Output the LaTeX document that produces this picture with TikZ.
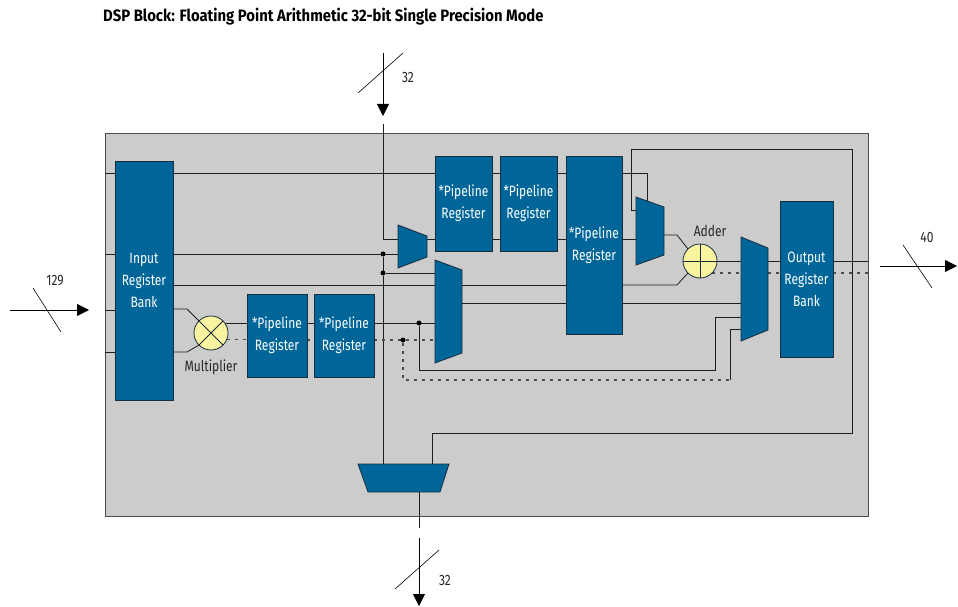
\documentclass[tikz,border=0pt]{standalone}
\usepackage{fontspec}
\setmainfont{Fira Sans}[FakeStretch=0.8]
\newfontfamily\titlefont{Fira Sans}[FakeStretch=0.9]
\usepackage{tikz}
\usetikzlibrary{arrows.meta,calc}
\definecolor{regblue}{RGB}{0,102,153}
\definecolor{regedge}{RGB}{25,45,60}
\definecolor{opyellow}{RGB}{250,244,160}
\definecolor{blockgray}{RGB}{204,204,204}
\definecolor{wire}{RGB}{30,30,30}
\pgfdeclarelayer{bg}
\pgfdeclarelayer{wires}
\pgfsetlayers{bg,wires,main}
\newcommand{\blockfont}{\fontsize{15}{22}\selectfont}
\newcommand{\drawmux}[2]{%
  \filldraw[muxfill] (#1.north west) -- ([yshift=-#2]#1.north east) -- ([yshift=#2]#1.south east) -- (#1.south west) -- cycle;}

\begin{document}
\begin{tikzpicture}[x=1pt, y=-1pt,
    reg/.style={draw=regedge, fill=regblue, text=white, align=center, inner sep=0pt, outer sep=0pt, line width=0.8pt, font=\blockfont},
    muxbox/.style={inner sep=0pt, outer sep=0pt},
    muxfill/.style={draw=regedge, fill=regblue, line width=0.8pt},
    oper/.style={circle, draw=regedge, fill=opyellow, minimum size=34pt, inner sep=0pt, outer sep=0pt, line width=0.8pt},
    wireline/.style={draw=wire, line width=0.8pt},
    dotline/.style={draw=gray!60!black, line width=1.1pt, dash pattern=on 3pt off 5pt},
    junction/.style={circle, fill=black, inner sep=0pt, outer sep=0pt, minimum size=5pt},
    sig/.style={draw=black, line width=0.8pt, -{Triangle[length=12pt,width=12pt]}},
    slash/.style={draw=black, line width=0.6pt},
    lbl/.style={text=black!85, font=\blockfont, inner sep=0pt}]
  \useasboundingbox (0,0) rectangle (958,607);
  \pgfmathsetmacro{\laneA}{173}
  \pgfmathsetmacro{\laneB}{239}
  \pgfmathsetmacro{\laneC}{285}
  \pgfmathsetmacro{\laneD}{303}

  \begin{pgfonlayer}{bg}
    \fill[white] (0,0) rectangle (958,607);
    \node[draw=gray!60!black, fill=blockgray, line width=1pt, minimum width=763pt, minimum height=382pt, inner sep=0pt, outer sep=0pt] (dsp) at (486.5,325) {};
  \end{pgfonlayer}

  \node[anchor=west, font=\titlefont\bfseries\fontsize{16.5}{18}\selectfont, inner sep=0pt] (title) at (103,17) {DSP Block: Floating Point Arithmetic 32-bit Single Precision Mode};

  % register blocks
  \node[reg, minimum width=58pt, minimum height=239pt] (inbank) at (144,280.5) {Input\\Register\\Bank};
  \node[reg, minimum width=57pt, minimum height=95pt] (pr1) at (463.5,203.5) {*Pipeline\\Register};
  \node[reg, minimum width=57pt, minimum height=95pt] (pr2) at (528.5,203.5) {*Pipeline\\Register};
  \node[reg, minimum width=56pt, minimum height=178pt] (pr3) at (594,245) {*Pipeline\\Register};
  \node[reg, minimum width=60pt, minimum height=83pt] (pr4) at (277,335.5) {*Pipeline\\Register};
  \node[reg, minimum width=60pt, minimum height=83pt] (pr5) at (344,335.5) {*Pipeline\\Register};
  \node[reg, minimum width=53pt, minimum height=156pt] (outbank) at (806.5,279) {Output\\Register\\Bank};

  % multiplexers
  \node[muxbox, minimum width=29pt, minimum height=43pt] (mux1) at (412.5,246.5) {};
  \node[muxbox, minimum width=27pt, minimum height=103pt] (mux2) at (448.5,311.5) {};
  \node[muxbox, minimum width=28pt, minimum height=68pt] (mux3) at (650,231) {};
  \node[muxbox, minimum width=27pt, minimum height=104pt] (omux) at (754.5,289) {};
  \node[muxbox, minimum width=91pt, minimum height=28pt] (bmux) at (403.5,478) {};
  \drawmux{mux1}{11pt}
  \drawmux{mux2}{10pt}
  \drawmux{mux3}{10pt}
  \drawmux{omux}{11pt}
  \filldraw[muxfill] (bmux.north west) -- (bmux.north east) -- ([xshift=-9pt]bmux.south east) -- ([xshift=10pt]bmux.south west) -- cycle;

  % multiplier and adder
  \node[oper, path picture={\draw[regedge, line width=0.8pt] (path picture bounding box.north west) -- (path picture bounding box.south east) (path picture bounding box.south west) -- (path picture bounding box.north east);}] (mult) at (211,333) {};
  \node[oper, path picture={\draw[regedge, line width=0.8pt] (path picture bounding box.north) -- (path picture bounding box.south) (path picture bounding box.west) -- (path picture bounding box.east);}] (adder) at (700,261) {};
  \node[lbl] (multlbl) at (211,367) {Multiplier};
  \node[lbl] (addlbl) at (710,231) {Adder};

  \node[junction] (j1) at (383,254) {};
  \node[junction] (j2) at (383,273) {};
  \node[junction] (j3) at (419,323) {};
  \node[junction] (j4) at (403,340) {};

  % ports
  \coordinate (in129) at (10,310);
  \coordinate (in129tip) at (89,310);
  \coordinate (topin) at (383,53);
  \coordinate (toptip) at (383,116);
  \coordinate (topent) at (383,124);
  \coordinate (out40) at (880,266);
  \coordinate (out40tip) at (957,266);
  \coordinate (botend) at (419,528);
  \coordinate (botout) at (419,538);
  \coordinate (bottip) at (419,606);
  \coordinate (m3top) at (647,201);

  \draw[sig] (in129) -- (in129tip);
  \draw[slash] (33,288) -- (61,332);
  \node[lbl] (n129) at (55,281) {129};
  \draw[sig] (topin) -- (toptip);
  \draw[slash] (358,93) -- (403,53);
  \node[lbl] (ntop) at (408,77) {32};
  \draw[sig] (out40) -- (out40tip);
  \draw[slash] (903,245) -- (932,288);
  \node[lbl] (n40) at (927,237) {40};
  \draw[sig] (botout) -- (bottip);
  \draw[slash] (395,589) -- (439,550);
  \node[lbl] (nbot) at (445,580) {32};

  \begin{pgfonlayer}{wires}
    \foreach \y in {173,254,310,352}
      \draw[wireline] (dsp.west |- 0,\y) -- (inbank.west |- 0,\y);
    % upper pipeline lanes
    \draw[wireline] (inbank.east |- 0,\laneA) -- (pr1.west |- 0,\laneA);
    \draw[wireline] (pr1.east |- 0,\laneA) -- (pr2.west |- 0,\laneA);
    \draw[wireline] (pr2.east |- 0,\laneA) -- (pr3.west |- 0,\laneA);
    \draw[wireline] (pr3.east |- 0,\laneA) -| (m3top);
    \draw[wireline] (topent) |- (mux1.west |- 0,\laneB);
    \draw[wireline] (mux1.east |- 0,\laneB) -- (pr1.west |- 0,\laneB);
    \draw[wireline] (pr1.east |- 0,\laneB) -- (pr2.west |- 0,\laneB);
    \draw[wireline] (pr2.east |- 0,\laneB) -- (pr3.west |- 0,\laneB);
    \draw[wireline] (pr3.east |- 0,\laneB) -- (mux3.west |- 0,\laneB);
    \draw[wireline] (inbank.east |- j1) -- (mux1.west |- j1);
    \draw[wireline] (j1) -- (j2);
    \draw[wireline] (j2) -- (j2 |- bmux.north);
    \draw[wireline] (j2) -- (mux2.west |- j2);
    \draw[wireline] (inbank.east |- 0,\laneC) -- (pr3.west |- 0,\laneC);
    \draw[wireline] (pr3.east |- 0,\laneC) -- (677,\laneC) -- (adder.south west);
    \draw[wireline] (mux3.east |- 0,235) -- (677,235) -- (adder.north west);
    \draw[wireline] (mux2.east |- 0,\laneD) -- (omux.west |- 0,\laneD);
    % feedback loop
    \draw[wireline] (mux3.west |- 0,210) -- (631,210) -- (631,149) -- (852,149) -- (852,433) -- (432,433) -- (bmux.north -| 432,0);
    % multiplier path
    \draw[wireline] (inbank.east |- 0,309) -- (187,309) -- (mult.north west);
    \draw[wireline] (inbank.east |- 0,352) -- (187,352) -- (mult.south west);
    \draw[wireline] (mult.36) -- (pr4.west |- mult.36);
    \draw[dotline] (mult.-24) -- (pr4.west |- mult.-24);
    \draw[wireline] (pr4.east |- j3) -- (pr5.west |- j3);
    \draw[dotline] (pr4.east |- j4) -- (pr5.west |- j4);
    \draw[wireline] (pr5.east |- j3) -- (mux2.west |- j3);
    \draw[dotline] (pr5.east |- j4) -- (mux2.west |- j4);
    \draw[wireline] (j3) |- (715,370) |- (omux.west |- 0,317);
    \draw[dotline] (j4) |- (730,380);
    \draw[wireline] (730,380) |- (omux.west |- 0,329);
    % adder to output
    \draw[wireline] (adder.east) -- (omux.west |- adder.east);
    \draw[dotline] (adder.south east) -- (omux.west |- adder.south east);
    \draw[wireline] (omux.east |- adder.east) -- (outbank.west |- adder.east);
    \draw[dotline] (omux.east |- adder.south east) -- (outbank.west |- adder.south east);
    \draw[wireline] (outbank.east |- adder.east) -- (dsp.east |- adder.east);
    \draw[dotline] (outbank.east |- adder.south east) -- (dsp.east |- adder.south east);
    % bottom output
    \draw[wireline] (bmux.south -| botend) -- (botend);
  \end{pgfonlayer}
\end{tikzpicture}
\end{document}
